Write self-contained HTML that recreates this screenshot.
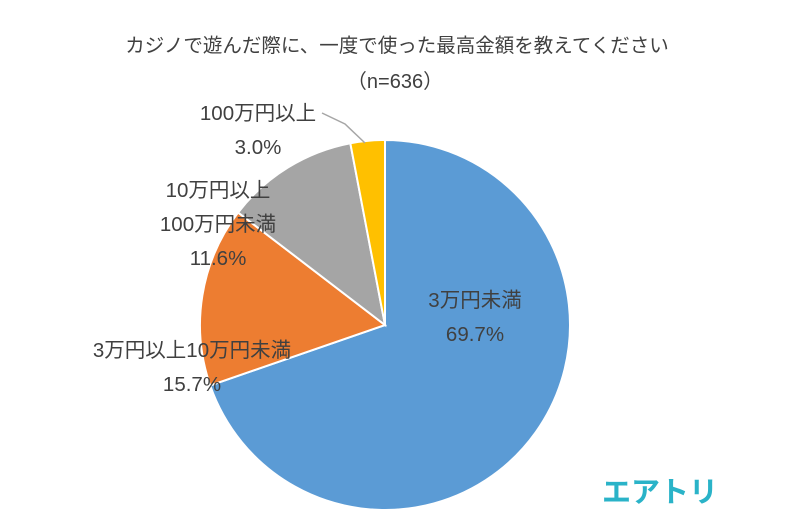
<!DOCTYPE html>
<html><head><meta charset="utf-8"><style>
body{margin:0;background:#fff;}
svg text{font-family:"Liberation Sans","Noto Sans CJK JP",sans-serif;fill:#404040;}
</style></head><body>
<svg id="chart" width="790" height="525" viewBox="0 0 790 525" xmlns="http://www.w3.org/2000/svg">
<text x="397" y="52" font-size="19.5" text-anchor="middle">カジノで遊んだ際に、一度で使った最高金額を教えてください</text>
<text x="395" y="88" font-size="20" text-anchor="middle">（n=636）</text>
<g id="slices"></g>
<polyline points="322,113 345,124 365,143" fill="none" stroke="#a6a6a6" stroke-width="1.5"/>
<g id="labels"></g>
<text x="660" y="502" font-size="29" font-weight="bold" text-anchor="middle" style="fill:#2ab3c8">エアトリ</text>
</svg>
<script>
const categories=["3万円未満","3万円以上10万円未満","10万円以上100万円未満","100万円以上"];
const values=[69.7,15.7,11.6,3.0];
const valueLabels=["69.7%","15.7%","11.6%","3.0%"];
const colors=["#5B9BD5","#ED7D31","#A5A5A5","#FFC000"];
const labelLines=[["3万円未満"],["3万円以上10万円未満"],["10万円以上","100万円未満"],["100万円以上"]];
const labelPos=[[475,300],[192,350],[218,190],[258,113]];
const cx=385,cy=325,r=185;
const NS="http://www.w3.org/2000/svg";
const total=values.reduce((a,b)=>a+b,0);
const gS=document.getElementById('slices'),gL=document.getElementById('labels');
let a0=0;
function pt(a){return [cx+r*Math.sin(a),cy-r*Math.cos(a)];}
values.forEach((v,i)=>{
  const a1=a0+v/total*2*Math.PI;
  const p0=pt(a0),p1=pt(a1);
  const large=(a1-a0)>Math.PI?1:0;
  const p=document.createElementNS(NS,'path');
  p.setAttribute('d',`M${cx},${cy} L${p0[0]},${p0[1]} A${r},${r} 0 ${large} 1 ${p1[0]},${p1[1]} Z`);
  p.setAttribute('fill',colors[i]);p.setAttribute('stroke','#fff');p.setAttribute('stroke-width','2');
  
  
  gS.appendChild(p);
  a0=a1;
  const lines=labelLines[i].concat([valueLabels[i]]);
  lines.forEach((s,j)=>{
    const t=document.createElementNS(NS,'text');
    t.setAttribute('x',labelPos[i][0]);t.setAttribute('y',labelPos[i][1]+j*34+7);
    t.setAttribute('font-size','20.5');t.setAttribute('text-anchor','middle');
    t.textContent=s;
    
    
    gL.appendChild(t);
  });
});
</script>
</body></html>
